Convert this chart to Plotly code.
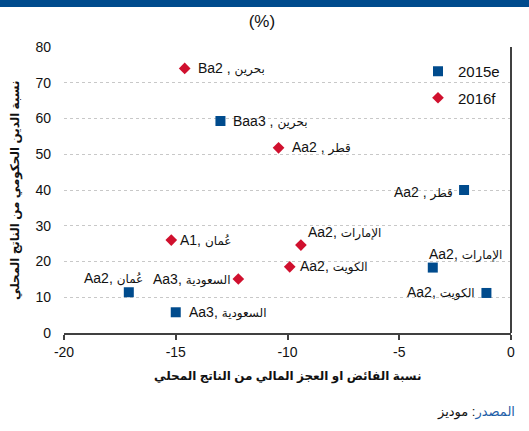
import plotly.graph_objects as go

# ---------------- data ----------------
countries_2015 = ["بحرين", "قطر", "الإمارات", "الكويت", "عُمان", "السعودية"]
ratings_2015 = ["Baa3", "Aa2", "Aa2", "Aa2", "Aa2", "Aa3"]
balance_2015 = [-13.0, -2.1, -3.5, -1.1, -17.1, -15.0]
debt_2015 = [59.3, 40.0, 18.3, 11.2, 11.4, 5.8]

countries_2016 = ["بحرين", "قطر", "الإمارات", "الكويت", "عُمان", "السعودية"]
ratings_2016 = ["Ba2", "Aa2", "Aa2", "Aa2", "A1", "Aa3"]
balance_2016 = [-14.6, -10.4, -9.4, -9.9, -15.2, -12.2]
debt_2016 = [74.0, 51.8, 24.6, 18.5, 26.0, 15.1]

x_tick_values = [-20, -15, -10, -5, 0]
x_tick_labels = ["-20", "-15", "-10", "-5", "0"]

series_names = ["2015e", "2016f"]
title_text = "(%)"
x_title = "نسبة الفائض او العجز المالي من الناتج المحلي"
y_title = "نسبة الدين الحكومي من الناتج المحلي"
source_label = "المصدر"
source_value = ": موديز"

# ---------------- styles ----------------
BLUE = "#004B8D"
RED = "#D0102E"
AXIS = "#404040"
TXT = "#111111"
FONT = "Arial, 'Liberation Sans', 'DejaVu Sans', sans-serif"
W, H = 529, 431
ML, MR, MT, MB = 64, 18, 47, 98
PW, PH = W - ML - MR, H - MT - MB

# label placement: (xanchor, xshift, yshift)
place_2015 = [("left", 11, 0), ("right", -9, -2), ("left", -6, 13),
              ("right", -9, 0), ("right", 16, 14), ("left", 11, 0)]
place_2016 = [("left", 11, 0), ("left", 11, 0), ("left", 5, 13),
              ("left", 8, 0), ("left", 7, 0), ("right", -5, 0)]
seps_2015 = [" , ", " , ", ", ", ", ", ", ", ", "]
seps_2016 = [" , ", " , ", ", ", ", ", ", ", ", "]


def label(rating, sep, country):
    return f"{rating}{sep}<span style='font-size:12px'>{country}</span>"


fig = go.Figure()
fig.add_trace(go.Scatter(
    x=balance_2015, y=debt_2015, mode="markers", name=series_names[0],
    marker=dict(symbol="square", size=10, color=BLUE), legendgroup="a",
))
fig.add_trace(go.Scatter(
    x=balance_2016, y=debt_2016, mode="markers", name=series_names[1],
    marker=dict(symbol="diamond", size=9, color=RED), legendgroup="b",
))

annotations = []
for xs, ys, cs, rs, pl, sp in [
    (balance_2015, debt_2015, countries_2015, ratings_2015, place_2015, seps_2015),
    (balance_2016, debt_2016, countries_2016, ratings_2016, place_2016, seps_2016),
]:
    for x, y, c, r, p, s in zip(xs, ys, cs, rs, pl, sp):
        annotations.append(dict(
            x=x, y=y, xref="x", yref="y", text=label(r, s, c), showarrow=False,
            xanchor=p[0], yanchor="middle", xshift=p[1], yshift=p[2],
            font=dict(family=FONT, size=14, color=TXT),
        ))

# source line
annotations.append(dict(
    xref="paper", yref="paper", x=1 + (MR - 12) / PW, y=-(412 - (MT + PH)) / PH,
    xanchor="right", yanchor="middle", showarrow=False,
    text=f"<span style='color:#1F5FA8'>{source_label}</span>{source_value}",
    font=dict(family=FONT, size=13, color=TXT),
))
# axis titles
annotations.append(dict(
    xref="paper", yref="paper", x=0.5, y=-(376 - (MT + PH)) / PH,
    xanchor="center", yanchor="middle", showarrow=False,
    text=f"<b>{x_title}</b>", font=dict(family=FONT, size=12, color=TXT),
))
annotations.append(dict(
    xref="paper", yref="paper", x=-(ML - 15) / PW, y=0.5, textangle=-90,
    xanchor="center", yanchor="middle", showarrow=False,
    text=f"<b>{y_title}</b>", font=dict(family=FONT, size=12, color=TXT),
))

shapes = [
    # top blue band
    dict(type="rect", xref="paper", yref="paper",
         x0=-ML / PW, x1=1 + MR / PW, y0=1 + (MT - 7) / PH, y1=1 + MT / PH,
         fillcolor=BLUE, line=dict(width=0), layer="above"),
    # vertical axis line at x = 0
    dict(type="line", xref="paper", yref="paper", x0=1, x1=1, y0=0, y1=1,
         line=dict(color=AXIS, width=2)),
]

fig.update_layout(
    width=W, height=H,
    margin=dict(l=ML, r=MR, t=MT, b=MB, pad=0),
    paper_bgcolor="white", plot_bgcolor="white",
    font=dict(family=FONT, size=13, color=TXT),
    title=dict(text=title_text, x=0.495, xref="container", xanchor="center",
               y=1 - 21 / H, yref="container", yanchor="middle",
               font=dict(family=FONT, size=17, color=TXT)),
    showlegend=True,
    legend=dict(x=(418 - ML) / PW, y=1 - (55 - MT) / PH, xanchor="left", yanchor="top",
                bgcolor="rgba(0,0,0,0)", font=dict(family=FONT, size=15, color=TXT),
                tracegroupgap=4, traceorder="grouped", itemwidth=30),
    xaxis=dict(range=[-20, 0], tickmode="array", tickvals=x_tick_values,
               ticktext=x_tick_labels, showgrid=False, zeroline=False,
               showline=True, linecolor=AXIS, linewidth=2,
               ticks="outside", ticklen=5, tickwidth=2, tickcolor=AXIS,
               tickfont=dict(family=FONT, size=14, color=TXT)),
    yaxis=dict(range=[0, 80], dtick=10, tick0=0, showgrid=True, gridcolor="#C8C8C8",
               griddash="dot", gridwidth=1, zeroline=False, showline=False,
               ticks="", ticklabelstandoff=12,
               tickfont=dict(family=FONT, size=14, color=TXT)),
    annotations=annotations,
    shapes=shapes,
)

fig.write_html(
    "out.html",
    config={"displayModeBar": False},
    post_script="document.body.style.margin='0';document.body.style.overflow='hidden';",
)
